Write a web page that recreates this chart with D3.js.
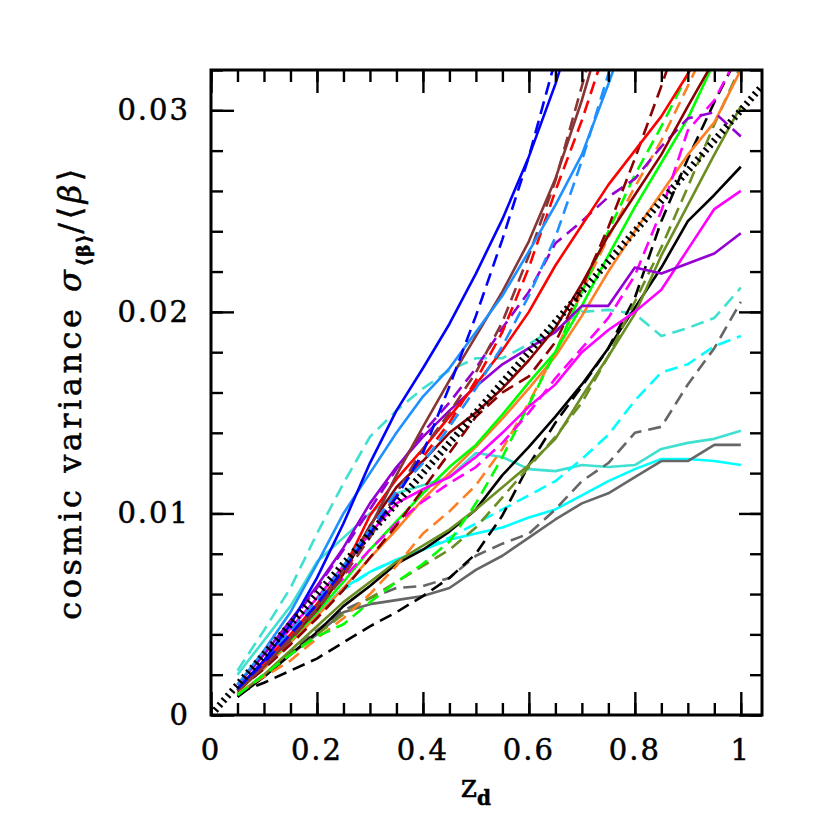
<!DOCTYPE html>
<html>
<head>
<meta charset="utf-8">
<script src="https://cdn.jsdelivr.net/npm/d3@7"></script>
<style>
  body { margin: 0; background: #fff; }
  text { font-family: "DejaVu Serif", serif; fill: #000; stroke: #000; stroke-width: 0.5px; }
</style>
</head>
<body>
<div id="chart"></div>
<script>
// redshift grid of the measurements
var zd = [0.05, 0.1, 0.15, 0.2, 0.25, 0.3, 0.35, 0.4, 0.45, 0.5,
          0.55, 0.6, 0.65, 0.7, 0.75, 0.8, 0.85, 0.9, 0.95, 1.0];

// cosmic variance values, one array per curve
var blueSolid       = [0.0013, 0.0027, 0.0045, 0.0068, 0.0095, 0.0125, 0.0151, 0.0172, 0.0194, 0.0219, 0.0246, 0.0277, 0.0313, 0.0355];
var blueDashed      = [0.0013, 0.0026, 0.0040, 0.0055, 0.0072, 0.0090, 0.0108, 0.0130, 0.0163, 0.0198, 0.0236, 0.0277, 0.0325];
var dodgerSolid     = [0.0015, 0.0032, 0.0051, 0.0075, 0.0100, 0.0120, 0.0140, 0.0158, 0.0172, 0.0190, 0.0208, 0.0230, 0.0253, 0.0278, 0.0313, 0.0350];
var dodgerDashed    = [0.0013, 0.0027, 0.0042, 0.0057, 0.0074, 0.0092, 0.0111, 0.0125, 0.0143, 0.0162, 0.0183, 0.0208, 0.0237, 0.0275, 0.0318, 0.0360];
var brownSolid      = [0.0012, 0.0024, 0.0038, 0.0054, 0.0072, 0.0093, 0.0119, 0.0143, 0.0166, 0.0188, 0.0210, 0.0235, 0.0266, 0.0305, 0.0350];
var brownDashed     = [0.0012, 0.0024, 0.0037, 0.0052, 0.0069, 0.0088, 0.0110, 0.0132, 0.0150, 0.0170, 0.0195, 0.0228, 0.0265, 0.0312, 0.0360];
var redSolid        = [0.0013, 0.0026, 0.0040, 0.0055, 0.0072, 0.0099, 0.0117, 0.0132, 0.0148, 0.0164, 0.0181, 0.0200, 0.0223, 0.0243, 0.0263, 0.0280, 0.0297, 0.0318, 0.0340];
var redDashed       = [0.0013, 0.0026, 0.0040, 0.0055, 0.0071, 0.0089, 0.0110, 0.0128, 0.0145, 0.0166, 0.0190, 0.0222, 0.0260, 0.0295, 0.0335];
var darkredSolid    = [0.0012, 0.0024, 0.0038, 0.0052, 0.0070, 0.0094, 0.0113, 0.0126, 0.0140, 0.0150, 0.0162, 0.0176, 0.0192, 0.0214, 0.0238, 0.0258, 0.0278, 0.0302, 0.0325];
var darkredDashed   = [0.0012, 0.0023, 0.0035, 0.0048, 0.0062, 0.0078, 0.0094, 0.0112, 0.0130, 0.0148, 0.0160, 0.0168, 0.0185, 0.0212, 0.0242, 0.0276, 0.0312, 0.0350];
var greenSolid      = [0.0012, 0.0024, 0.0037, 0.0051, 0.0066, 0.0082, 0.0096, 0.0110, 0.0123, 0.0134, 0.0149, 0.0165, 0.0180, 0.0203, 0.0228, 0.0252, 0.0274, 0.0296, 0.0324];
var greenDashed     = [0.0010, 0.0020, 0.0030, 0.0039, 0.0045, 0.0056, 0.0066, 0.0075, 0.0086, 0.0105, 0.0128, 0.0154, 0.0180, 0.0210, 0.0240, 0.0268, 0.0292, 0.0318, 0.0345];
var orangeSolid     = [0.0012, 0.0023, 0.0036, 0.0049, 0.0063, 0.0078, 0.0092, 0.0107, 0.0120, 0.0133, 0.0147, 0.0162, 0.0178, 0.0198, 0.0220, 0.0240, 0.0259, 0.0278, 0.0294, 0.0320];
var orangeDashed    = [0.0011, 0.0019, 0.0027, 0.0038, 0.0048, 0.0060, 0.0074, 0.0090, 0.0101, 0.0114, 0.0132, 0.0155, 0.0180, 0.0210, 0.0237, 0.0262, 0.0285, 0.0312, 0.0340];
var oliveSolid      = [0.0010, 0.0020, 0.0032, 0.0044, 0.0056, 0.0066, 0.0076, 0.0084, 0.0092, 0.0102, 0.0113, 0.0124, 0.0137, 0.0158, 0.0178, 0.0199, 0.0228, 0.0253, 0.0278, 0.0302];
var oliveDashed     = [0.0010, 0.0020, 0.0030, 0.0040, 0.0050, 0.0058, 0.0066, 0.0074, 0.0082, 0.0093, 0.0108, 0.0123, 0.0138, 0.0155, 0.0178, 0.0205, 0.0232, 0.0262, 0.0293, 0.0322];
var magentaSolid    = [0.0013, 0.0027, 0.0043, 0.0058, 0.0074, 0.0090, 0.0105, 0.0112, 0.0118, 0.0128, 0.0140, 0.0153, 0.0164, 0.0180, 0.0191, 0.0200, 0.0211, 0.0231, 0.0251, 0.0260];
var magentaDashed   = [0.0013, 0.0026, 0.0041, 0.0054, 0.0068, 0.0082, 0.0095, 0.0106, 0.0115, 0.0123, 0.0135, 0.0150, 0.0167, 0.0182, 0.0197, 0.0218, 0.0250, 0.0290, 0.0305, 0.0330];
var violetSolid     = [0.0015, 0.0030, 0.0047, 0.0064, 0.0083, 0.0105, 0.0123, 0.0138, 0.0151, 0.0163, 0.0174, 0.0182, 0.0190, 0.0203, 0.0203, 0.0222, 0.0219, 0.0224, 0.0229, 0.0239];
var violetDashed    = [0.0015, 0.0030, 0.0046, 0.0063, 0.0082, 0.0102, 0.0122, 0.0140, 0.0155, 0.0172, 0.0192, 0.0210, 0.0234, 0.0245, 0.0257, 0.0266, 0.0282, 0.0296, 0.0299, 0.0287];
var blackSolid      = [0.0009, 0.0019, 0.0030, 0.0041, 0.0054, 0.0064, 0.0075, 0.0082, 0.0091, 0.0102, 0.0119, 0.0133, 0.0148, 0.0164, 0.0182, 0.0202, 0.0222, 0.0245, 0.0258, 0.0272];
var blackDashed     = [0.0011, 0.0016, 0.0022, 0.0028, 0.0036, 0.0044, 0.0051, 0.0059, 0.0068, 0.0080, 0.0099, 0.0124, 0.0145, 0.0163, 0.0182, 0.0207, 0.0245, 0.0276, 0.0304, 0.0330];
var graySolid       = [0.0010, 0.0019, 0.0030, 0.0040, 0.0051, 0.0055, 0.0057, 0.0059, 0.0063, 0.0072, 0.0079, 0.0088, 0.0097, 0.0105, 0.0110, 0.0118, 0.0126, 0.0126, 0.0134, 0.0134];
var grayDashed      = [0.0010, 0.0020, 0.0031, 0.0042, 0.0052, 0.0058, 0.0063, 0.0064, 0.0068, 0.0079, 0.0085, 0.0090, 0.0102, 0.0116, 0.0125, 0.0140, 0.0143, 0.0164, 0.0182, 0.0205];
var cyanSolid       = [0.0012, 0.0023, 0.0036, 0.0050, 0.0063, 0.0071, 0.0077, 0.0082, 0.0087, 0.0090, 0.0093, 0.0098, 0.0102, 0.0109, 0.0116, 0.0122, 0.0127, 0.0127, 0.0126, 0.0124];
var cyanDashed      = [0.0013, 0.0025, 0.0038, 0.0050, 0.0062, 0.0071, 0.0077, 0.0082, 0.0088, 0.0095, 0.0102, 0.0109, 0.0116, 0.0127, 0.0139, 0.0156, 0.0170, 0.0174, 0.0183, 0.0188];
var turqSolid       = [0.0020, 0.0037, 0.0054, 0.0076, 0.0088, 0.0100, 0.0110, 0.0114, 0.0118, 0.0130, 0.0128, 0.0122, 0.0121, 0.0124, 0.0123, 0.0124, 0.0132, 0.0135, 0.0137, 0.0141];
var turqDashed      = [0.0022, 0.0042, 0.0063, 0.0090, 0.0115, 0.0138, 0.0151, 0.0162, 0.0171, 0.0177, 0.0177, 0.0184, 0.0192, 0.0200, 0.0201, 0.0199, 0.0188, 0.0192, 0.0197, 0.0212];

// reference relation drawn as the thick dotted line
var refSlope = 0.03;
var refZ = [0, 1.04];

// axis ticks
var xTicks = [0, 0.2, 0.4, 0.6, 0.8, 1];
var yTicks = [0, 0.01, 0.02, 0.03];

var series = [
    {values: turqDashed,    color: "#40e0d0", dashed: true},
    {values: turqSolid,     color: "#40e0d0", dashed: false},
    {values: cyanDashed,    color: "#00ffff", dashed: true},
    {values: cyanSolid,     color: "#00ffff", dashed: false},
    {values: grayDashed,    color: "#666666", dashed: true},
    {values: graySolid,     color: "#666666", dashed: false},
    {values: blackDashed,   color: "#000000", dashed: true},
    {values: blackSolid,    color: "#000000", dashed: false},
    {values: oliveDashed,   color: "#6b8e23", dashed: true},
    {values: oliveSolid,    color: "#6b8e23", dashed: false},
    {values: orangeDashed,  color: "#ff7f24", dashed: true},
    {values: orangeSolid,   color: "#ff7f24", dashed: false},
    {values: greenDashed,   color: "#00ff00", dashed: true},
    {values: greenSolid,    color: "#00ff00", dashed: false},
    {values: magentaDashed, color: "#ff00ff", dashed: true},
    {values: magentaSolid,  color: "#ff00ff", dashed: false},
    {values: violetDashed,  color: "#9400d3", dashed: true},
    {values: violetSolid,   color: "#9400d3", dashed: false},
    {values: darkredDashed, color: "#8b0000", dashed: true},
    {values: darkredSolid,  color: "#8b0000", dashed: false},
    {values: redDashed,     color: "#ff0000", dashed: true},
    {values: redSolid,      color: "#ff0000", dashed: false},
    {values: brownDashed,   color: "#873535", dashed: true},
    {values: brownSolid,    color: "#873535", dashed: false},
    {values: dodgerDashed,  color: "#1e90ff", dashed: true},
    {values: dodgerSolid,   color: "#1e90ff", dashed: false},
    {values: blueDashed,    color: "#0000ff", dashed: true},
    {values: blueSolid,     color: "#0000ff", dashed: false}
];

var margin = {top: 70, right: 68, bottom: 115, left: 211},
    width = 830 - margin.left - margin.right,
    height = 830 - margin.top - margin.bottom;

var x = d3.scaleLinear().domain([0, 1.04]).range([0, width]);
var y = d3.scaleLinear().domain([0, 0.032]).range([height, 0]);

var svg = d3.select("#chart").append("svg")
    .attr("width", 830)
    .attr("height", 830)
  .append("g")
    .attr("transform", "translate(" + margin.left + "," + margin.top + ")");

svg.append("clipPath").attr("id", "plotClip")
  .append("rect").attr("width", width).attr("height", height);

var plot = svg.append("g").attr("clip-path", "url(#plotClip)");

var line = d3.line()
    .x(function(d) { return x(d[0]); })
    .y(function(d) { return y(d[1]); });

series.forEach(function(s) {
    var pts = s.values.map(function(v, i) { return [zd[i], v]; });
    plot.append("path")
        .attr("d", line(pts))
        .attr("fill", "none")
        .attr("stroke", s.color)
        .attr("stroke-width", 2.6)
        .attr("stroke-linejoin", "round")
        .attr("stroke-dasharray", s.dashed ? "13,7" : null);
});

// thick dotted reference line
plot.append("path")
    .attr("d", line(refZ.map(function(z) { return [z, refSlope * z]; })))
    .attr("fill", "none")
    .attr("stroke", "#000")
    .attr("stroke-width", 7)
    .attr("stroke-dasharray", "2.2,4");

// axes: ticks inside on all four sides
var xMinor = d3.range(0, 1.04, 0.05);
var yMinor = d3.range(0, 0.0321, 0.002);

var frame = svg.append("g").attr("class", "frame");

function addTicks(makeAxis, scale, values, size, transform) {
    var g = frame.append("g")
        .attr("transform", transform)
        .call(makeAxis(scale).tickValues(values).tickSize(-size).tickFormat(""));
    g.select(".domain").remove();
    g.selectAll("line").attr("stroke", "#000").attr("stroke-width", 2.4);
}

addTicks(d3.axisBottom, x, xMinor, 12, "translate(0," + height + ")");
addTicks(d3.axisBottom, x, xTicks, 23, "translate(0," + height + ")");
addTicks(d3.axisTop, x, xMinor, 12, "translate(0,0)");
addTicks(d3.axisTop, x, xTicks, 23, "translate(0,0)");
addTicks(d3.axisLeft, y, yMinor, 12, "translate(0,0)");
addTicks(d3.axisLeft, y, yTicks, 23, "translate(0,0)");
addTicks(d3.axisRight, y, yMinor, 12, "translate(" + width + ",0)");
addTicks(d3.axisRight, y, yTicks, 23, "translate(" + width + ",0)");

frame.append("rect")
    .attr("width", width)
    .attr("height", height)
    .attr("fill", "none")
    .attr("stroke", "#000")
    .attr("stroke-width", 3);

// tick labels
svg.selectAll(".xlab").data(xTicks).enter().append("text")
    .attr("class", "xlab")
    .attr("x", function(d) { return x(d); })
    .attr("y", height + 45)
    .attr("text-anchor", "middle")
    .style("font-size", "29px")
    .style("letter-spacing", "2px")
    .text(function(d) { return d3.format("")(d); });

svg.selectAll(".ylab").data(yTicks).enter().append("text")
    .attr("class", "ylab")
    .attr("x", -21)
    .attr("y", function(d) { return y(d) + 10; })
    .attr("text-anchor", "end")
    .style("font-size", "29px")
    .style("letter-spacing", "2px")
    .text(function(d) { return d === 0 ? "0" : d3.format(".2f")(d); });

// axis titles
var xt = svg.append("text")
    .attr("x", x(0.5))
    .attr("y", height + 82)
    .attr("text-anchor", "middle")
    .style("font-size", "31px");
xt.append("tspan").text("z");
xt.append("tspan").attr("dy", 8).style("font-size", "20px").style("font-weight", "bold").text("d");

var yt = svg.append("text")
    .attr("transform", "translate(" + (-130) + "," + (height / 2) + ") rotate(-90)")
    .attr("text-anchor", "middle")
    .style("font-size", "32px")
    .style("letter-spacing", "3.5px");
yt.append("tspan").text("cosmic variance ");
yt.append("tspan").style("font-style", "italic").text("σ");
yt.append("tspan").attr("dy", 9).style("font-size", "19px").style("font-weight", "bold").style("letter-spacing", "1px").text("⟨β⟩");
yt.append("tspan").attr("dy", -9).text("/⟨");
yt.append("tspan").style("font-style", "italic").text("β");
yt.append("tspan").text("⟩");
</script>
</body>
</html>
